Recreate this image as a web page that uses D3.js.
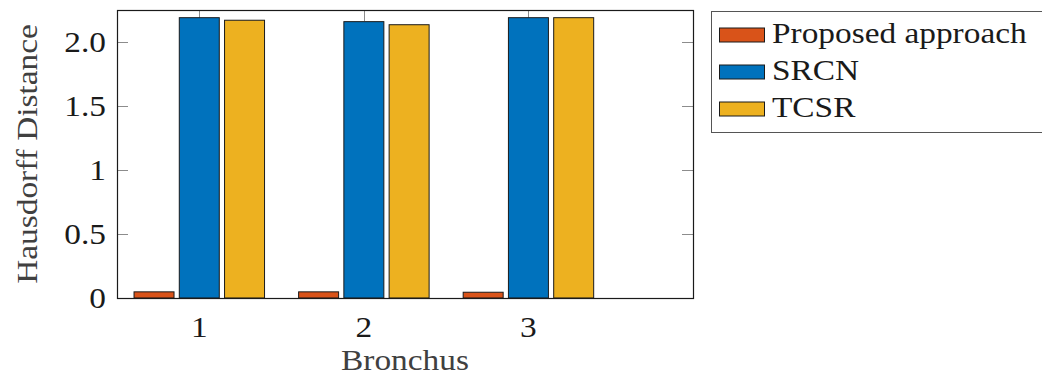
<!DOCTYPE html>
<html>
<head>
<meta charset="utf-8">
<script src="https://cdn.jsdelivr.net/npm/d3@7"></script>
<style>
  body { margin: 0; background: #fff; }
  text { font-family: "Liberation Serif", "DejaVu Serif", serif; fill: #1a1a1a; }
</style>
</head>
<body>
<script>
// data
var categories = [1, 2, 3];
var seriesNames = ["Proposed approach", "SRCN", "TCSR"];
var proposed = [0.048, 0.048, 0.045];
var srcn = [2.19, 2.159, 2.19];
var tcsr = [2.17, 2.135, 2.19];
var yTicks = [0, 0.5, 1, 1.5, 2];
var yTickLabels = ["0", "0.5", "1", "1.5", "2.0"];
var colors = ["#D95319", "#0072BD", "#EDB120"];

var width = 1042, height = 379;
var plotLeft = 117, plotRight = 693, plotTop = 10, plotBottom = 298;
var fontSize = 29;
var stretch = 1.15; // Computer Modern is wider than Liberation Serif

var svg = d3.select("body").append("svg")
    .attr("width", width)
    .attr("height", height);

// place a text with a horizontal stretch around its anchor point
function place(sel, x, y, rot) {
    return sel.attr("transform", "translate(" + x + "," + y + ")" + (rot ? " rotate(" + rot + ")" : "") + " scale(" + stretch + ",1)");
}

// scales
var xScale = d3.scaleLinear().domain([0.5, 4]).range([plotLeft, plotRight]);
var yScale = d3.scaleLinear().domain([0, 2.25]).range([plotBottom, plotTop]);

var series = [proposed, srcn, tcsr];
var offsets = [-0.275, 0, 0.275];  // in category units
var barW = 0.243;

// ticks (inward, on all four sides) - drawn before bars so bars cover them
var tickLen = 11;
var ticks = svg.append("g").attr("stroke", "#8c8c8c").attr("stroke-width", 1);
yTicks.forEach(function (t) {
    var yy = Math.round(yScale(t)) + 0.5;
    ticks.append("line").attr("x1", plotLeft).attr("x2", plotLeft + tickLen).attr("y1", yy).attr("y2", yy);
    ticks.append("line").attr("x1", plotRight - tickLen).attr("x2", plotRight).attr("y1", yy).attr("y2", yy);
});
categories.forEach(function (c) {
    var xx = Math.round(xScale(c)) + 0.5;
    ticks.append("line").attr("x1", xx).attr("x2", xx).attr("y1", plotTop).attr("y2", plotTop + tickLen);
    ticks.append("line").attr("x1", xx).attr("x2", xx).attr("y1", plotBottom - tickLen).attr("y2", plotBottom);
});

// bars
series.forEach(function (vals, i) {
    svg.append("g").selectAll("rect")
        .data(vals)
        .enter().append("rect")
        .attr("x", function (d, j) { return xScale(categories[j] + offsets[i] - barW / 2); })
        .attr("width", xScale(barW) - xScale(0))
        .attr("y", function (d) { return yScale(d); })
        .attr("height", function (d) { return yScale(0) - yScale(d); })
        .attr("fill", colors[i])
        .attr("stroke", "#1a1a1a")
        .attr("stroke-width", 1);
});

// plot frame
svg.append("rect")
    .attr("x", plotLeft + 0.5).attr("y", plotTop + 0.5)
    .attr("width", plotRight - plotLeft).attr("height", plotBottom - plotTop)
    .attr("fill", "none").attr("stroke", "#1a1a1a").attr("stroke-width", 1.2);

// y tick labels
svg.append("g").selectAll("text")
    .data(yTicks)
    .enter().append("text")
    .each(function (d) { place(d3.select(this), 106, yScale(d) + 10); })
    .attr("text-anchor", "end")
    .style("font-size", fontSize + "px")
    .text(function (d, i) { return yTickLabels[i]; });

// x tick labels
svg.append("g").selectAll("text")
    .data(categories)
    .enter().append("text")
    .each(function (d) { place(d3.select(this), xScale(d), 337); })
    .attr("text-anchor", "middle")
    .style("font-size", fontSize + "px")
    .text(function (d) { return d; });

// axis labels
place(svg.append("text"), 37, (plotTop + plotBottom) / 2, -90)
    .attr("text-anchor", "middle")
    .style("font-size", fontSize + "px")
    .style("fill", "#404040")
    .text("Hausdorff Distance");

place(svg.append("text"), (plotLeft + plotRight) / 2, 370)
    .attr("text-anchor", "middle")
    .style("font-size", fontSize + "px")
    .style("fill", "#404040")
    .text("Bronchus");

// legend
var legend = svg.append("g");
legend.append("rect")
    .attr("x", 711.5).attr("y", 11.5)
    .attr("width", 345).attr("height", 121)
    .attr("fill", "#fff").attr("stroke", "#555").attr("stroke-width", 1);

var item = legend.selectAll(".legend")
    .data(seriesNames)
    .enter().append("g")
    .attr("class", "legend")
    .attr("transform", function (d, i) { return "translate(0," + (i * 37) + ")"; });

item.append("rect")
    .attr("x", 719.5).attr("y", 28)
    .attr("width", 45).attr("height", 14)
    .attr("fill", function (d, i) { return colors[i]; })
    .attr("stroke", "#1a1a1a").attr("stroke-width", 1);

item.append("text")
    .each(function () { place(d3.select(this), 772, 43); })
    .style("font-size", fontSize + "px")
    .text(function (d) { return d; });
</script>
</body>
</html>
